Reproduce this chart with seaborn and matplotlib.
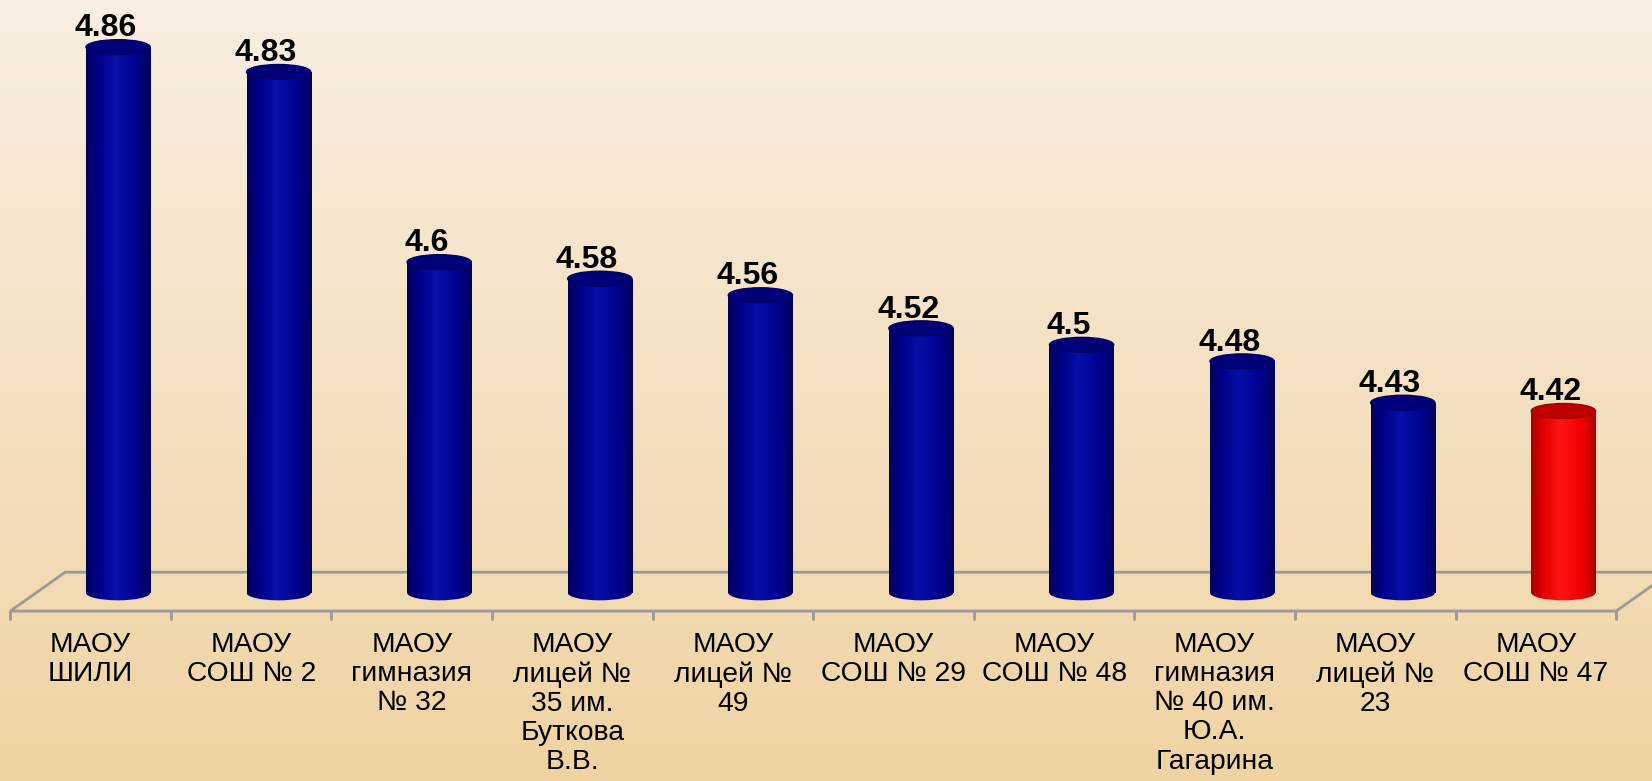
import numpy as np
import pandas as pd
import matplotlib.pyplot as plt
import seaborn as sns
from matplotlib.patches import Ellipse, Polygon
from matplotlib.colors import LinearSegmentedColormap

schools = ["МАОУ\nШИЛИ", "МАОУ\nСОШ № 2", "МАОУ\nгимназия\n№ 32",
           "МАОУ\nлицей №\n35 им.\nБуткова\nВ.В.", "МАОУ\nлицей №\n49",
           "МАОУ\nСОШ № 29", "МАОУ\nСОШ № 48",
           "МАОУ\nгимназия\n№ 40 им.\nЮ.А.\nГагарина", "МАОУ\nлицей №\n23",
           "МАОУ\nСОШ № 47"]
scores = [4.86, 4.83, 4.6, 4.58, 4.56, 4.52, 4.5, 4.48, 4.43, 4.42]
score_text = ["4.86", "4.83", "4.6", "4.58", "4.56", "4.52", "4.5", "4.48", "4.43", "4.42"]
highlight = "МАОУ\nСОШ № 47"

base = 4.2          # floor of the value axis
bar_w = 0.40
ell_h = 0.018       # height of cylinder caps, in value units
shift = 0.171       # half of the 3d depth shift along x

sns.set_style("white")
plt.rcParams['font.family'] = ['Liberation Sans', 'DejaVu Sans']

df = pd.DataFrame({"school": schools, "score": scores})
palette = {s: ("#E60000" if s == highlight else "#00008F") for s in schools}

fig = plt.figure(figsize=(16.52, 7.81), dpi=100)

# фон - градиент
bg = fig.add_axes([0, 0, 1, 1], zorder=0)
grad_bg = np.linspace(0, 1, 256).reshape(-1, 1)
bg_cmap = LinearSegmentedColormap.from_list("bg", ["#F9EEE2", "#EFD3A2"])
bg.imshow(grad_bg, aspect="auto", cmap=bg_cmap, extent=[0, 1, 0, 1])
bg.axis("off")

ax = fig.add_axes([0, 0, 1, 1], zorder=1)
ax.patch.set_alpha(0)

sns.barplot(data=df, x="school", y="score", hue="school", palette=palette,
            width=bar_w, legend=False, ax=ax, zorder=2)

blue_cmap = LinearSegmentedColormap.from_list(
    "cyl_b", [(0, "#00005A"), (0.18, "#000088"), (0.45, "#0810AA"), (0.8, "#00008C"), (1, "#00005A")])
red_cmap = LinearSegmentedColormap.from_list(
    "cyl_r", [(0, "#A80000"), (0.18, "#E00000"), (0.45, "#FF1414"), (0.8, "#F00000"), (1, "#B00000")])
row = np.linspace(0, 1, 200).reshape(1, -1)

for p in ax.patches:
    cx = p.get_x() + p.get_width() / 2
    i = int(round(cx))
    v = scores[i]
    red = schools[i] == highlight
    cmap = red_cmap if red else blue_cmap
    p.set_y(base)
    p.set_height(v - base)
    p.set_edgecolor("none")
    x0 = p.get_x()
    # нижний полуэллипс
    bottom = Ellipse((cx, base), bar_w, ell_h, facecolor="none", edgecolor="none")
    ax.add_patch(bottom)
    for clip in (p, bottom):
        im = ax.imshow(row, cmap=cmap, aspect="auto", zorder=2.5,
                       extent=[x0, x0 + bar_w, base - ell_h, v])
        im.set_clip_path(clip)
    top = Ellipse((cx, v), bar_w, ell_h, facecolor="#C00000" if red else "#000078",
                  edgecolor="#A00000" if red else "#000066", lw=1, zorder=3)
    ax.add_patch(top)
    ax.text(cx - 0.08, v + ell_h / 2 + 0.004, score_text[i], ha="center", va="baseline",
            fontsize=23, fontweight="bold", color="black", zorder=4)

# пол (3d плоскость)
n = len(schools)
y_front, y_back = base - 0.022, base + 0.025
floor = Polygon([(-0.5 - shift, y_front), (n - 0.5 - shift, y_front),
                 (n - 0.5 + shift, y_back), (-0.5 + shift, y_back)],
                closed=True, facecolor="none", edgecolor="#9A9A9A", lw=2, zorder=1)
ax.add_patch(floor)
for k in range(n + 1):
    xt = k - 0.5 - shift
    ax.plot([xt, xt], [y_front, y_front - 0.010], color="#9A9A9A", lw=2, zorder=1)

for i, s in enumerate(schools):
    ax.text(i - shift, y_front - 0.025, s, ha="center", va="top", fontsize=20.3,
            linespacing=1.16, color="black")

ax.set_xlim(-0.735, 9.552)
ax.set_ylim(3.9725, 4.917)
ax.axis("off")

fig.savefig("out.png", dpi=100)
